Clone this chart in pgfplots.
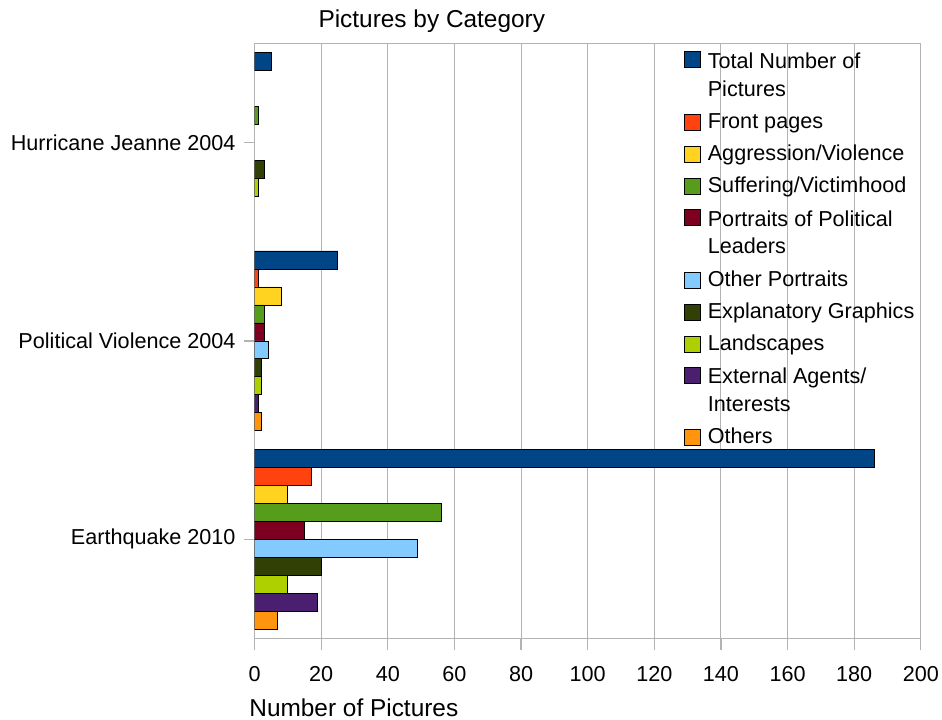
\documentclass[border=0pt]{standalone}
\usepackage{pgfplots}
\pgfplotsset{compat=1.18}
\usepackage{fontspec}
\setmainfont{Liberation Sans}

\definecolor{cTotal}{HTML}{004586}
\definecolor{cFront}{HTML}{FF420E}
\definecolor{cAggr}{HTML}{FFD320}
\definecolor{cSuff}{HTML}{579D1C}
\definecolor{cPortr}{HTML}{7E0021}
\definecolor{cOther}{HTML}{83CAFF}
\definecolor{cExpl}{HTML}{314004}
\definecolor{cLand}{HTML}{AECF00}
\definecolor{cExt}{HTML}{4B1F6F}
\definecolor{cRest}{HTML}{FF950E}
\definecolor{gridgray}{HTML}{B3B3B3}

% one bar series: fill colour and offset inside its group
\pgfplotsset{
  catbar/.style 2 args={
    fill=#1, draw=black, line width=0.4pt,
    bar shift=#2,
    legend image code/.code={
      \draw[fill=#1, draw=black, line width=0.4pt] (0pt,-3.7pt) rectangle (8pt,4.3pt);
    },
  },
}

\begin{document}
\begin{tikzpicture}
\begin{axis}[
  scale only axis,
  width=333pt, height=297.5pt,
  xbar, bar width=0.0907,
  y dir=reverse,
  xmin=0, xmax=200, ymin=-0.5, ymax=2.5,
  xtick={0,20,...,200},
  ytick={0,1,2},
  yticklabels={Hurricane Jeanne 2004, Political Violence 2004, Earthquake 2010},
  xmajorgrids, grid style={gridgray, line width=0.5pt},
  axis line style={gridgray, line width=0.6pt},
  tick style={gridgray, line width=0.6pt},
  tick align=outside, tick pos=left,
  major tick length=5.5pt,
  /pgf/number format/assume math mode=true,
  tick label style={font=\fontsize{10.8}{13}\selectfont},
  xticklabel style={anchor=base, yshift=-16pt},
  yticklabel style={xshift=-0.5pt},
  title={Pictures by Category},
  title style={at={(rel axis cs:0.266,1)}, anchor=base, yshift=2pt,
    font=\fontsize{12.2}{14}\selectfont},
  xlabel={Number of Pictures},
  xlabel style={at={(rel axis cs:0.149,0)}, anchor=base, yshift=-39pt,
    font=\fontsize{12.2}{14}\selectfont},
  legend style={at={(rel axis cs:0.644,0.987)}, anchor=north west,
    draw=none, fill=none, font=\fontsize{10.8}{13.5}\selectfont,
    row sep=6.1pt, column sep=3.5pt, inner sep=0pt,
    nodes={inner sep=0pt, text height=7.8pt, text depth=2.2pt}},
  legend cell align=left,
]
\addplot[catbar={cTotal}{-0.40815}] coordinates {(5,0) (25,1) (186,2)};
\addlegendentry[text depth=0pt]{Total Number of}
\addlegendimage{empty legend}
\addlegendentry{Pictures}
\addplot[catbar={cFront}{-0.31745}] coordinates {(1,1) (17,2)};
\addlegendentry{Front pages}
\addplot[catbar={cAggr}{-0.22675}] coordinates {(8,1) (10,2)};
\addlegendentry{Aggression/Violence}
\addplot[catbar={cSuff}{-0.13605}] coordinates {(1,0) (3,1) (56,2)};
\addlegendentry{Suffering/Victimhood}
\addplot[catbar={cPortr}{-0.04535}] coordinates {(3,1) (15,2)};
\addlegendentry[text depth=0pt]{Portraits of Political}
\addlegendimage{empty legend}
\addlegendentry{Leaders}
\addplot[catbar={cOther}{0.04535}] coordinates {(4,1) (49,2)};
\addlegendentry{Other Portraits}
\addplot[catbar={cExpl}{0.13605}] coordinates {(3,0) (2,1) (20,2)};
\addlegendentry{Explanatory Graphics}
\addplot[catbar={cLand}{0.22675}] coordinates {(1,0) (2,1) (10,2)};
\addlegendentry{Landscapes}
\addplot[catbar={cExt}{0.31745}] coordinates {(1,1) (19,2)};
\addlegendentry[text depth=0pt]{External Agents/}
\addlegendimage{empty legend}
\addlegendentry{Interests}
\addplot[catbar={cRest}{0.40815}] coordinates {(2,1) (7,2)};
\addlegendentry{Others}
\end{axis}
\pgfresetboundingbox
\path (current axis.south west) ++(-127.25pt,-40.35pt) coordinate (bbA);
\path (current axis.north east) ++(10.6pt,21.65pt) coordinate (bbB);
\useasboundingbox (bbA) rectangle (bbB);
\end{tikzpicture}
\end{document}
